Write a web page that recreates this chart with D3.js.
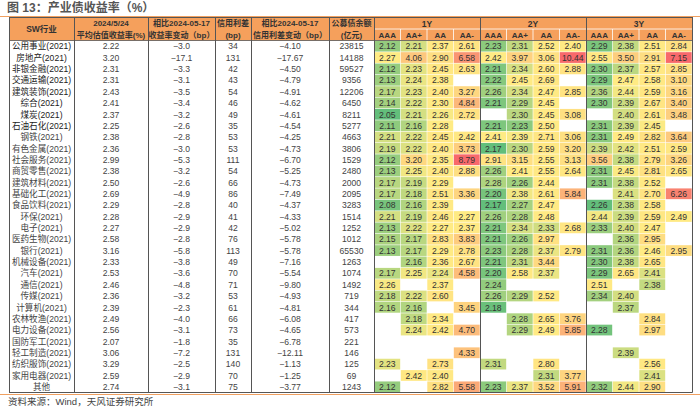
<!DOCTYPE html>
<html>
<head>
<meta charset="utf-8">
<script src="https://cdn.jsdelivr.net/npm/d3@7"></script>
<style>
  body { margin: 0; background: #fff; }
  svg { display: block; font-family: "Liberation Sans", "Noto Sans CJK SC", sans-serif; }
</style>
</head>
<body>
<div id="chart"></div>
<script>
var industries = ["公用事业(2021)","房地产(2021)","非银金融(2021)","交通运输(2021)","建筑装饰(2021)","综合(2021)","煤炭(2021)","石油石化(2021)","钢铁(2021)","有色金属(2021)","社会服务(2021)","商贸零售(2021)","建筑材料(2021)","基础化工(2021)","食品饮料(2021)","环保(2021)","电子(2021)","医药生物(2021)","银行(2021)","机械设备(2021)","汽车(2021)","通信(2021)","传媒(2021)","计算机(2021)","农林牧渔(2021)","电力设备(2021)","国防军工(2021)","轻工制造(2021)","纺织服饰(2021)","家用电器(2021)","其他"];
var yield524 = [2.22,3.20,2.31,2.31,2.43,2.41,2.37,2.25,2.38,2.36,2.99,2.38,2.50,2.69,2.29,2.28,2.27,2.58,3.16,2.33,2.53,2.46,2.36,2.39,2.49,2.56,2.07,3.06,3.29,2.59,2.74];
var yieldChg = [-3.0,-17.1,-3.3,-3.1,-3.5,-3.4,-3.2,-2.6,-2.8,-3.0,-5.3,-3.2,-2.6,-4.9,-2.8,-2.9,-2.9,-2.8,-5.8,-3.8,-3.6,-4.8,-3.2,-2.3,-4.0,-3.1,-1.8,-7.2,-2.5,-2.9,-3.1];
var spread = [34,131,42,43,54,46,49,35,53,53,111,54,66,86,40,41,42,76,113,49,70,71,53,61,66,73,35,131,140,70,75];
var spreadChg = [-4.10,-17.67,-4.50,-4.79,-4.91,-4.62,-4.61,-4.54,-4.25,-4.73,-6.70,-5.25,-4.73,-7.49,-4.37,-4.33,-5.02,-5.78,-5.78,-7.16,-5.54,-9.80,-4.93,-4.81,-6.08,-4.65,-6.78,-12.11,-1.13,-1.25,-3.77];
var balance = [23815,14188,59527,9356,12206,6450,8211,5277,4663,3806,1529,2480,2000,2095,3283,1514,1252,1012,65530,1263,1074,1492,719,344,417,573,221,146,125,69,1243];

var tenors = ["1Y","2Y","3Y"];
var ratings = ["AAA","AA+","AA","AA-"];
var N = null;
// yields by tenor, columns AAA, AA+, AA, AA-
var y1 = [[2.12,2.21,2.37,2.61],[2.27,4.06,2.90,6.58],[2.12,2.23,2.45,2.63],[2.13,2.24,2.38,N],[2.17,2.23,2.40,3.27],[2.14,2.22,2.30,4.84],[2.05,2.21,2.26,2.72],[2.11,2.16,2.28,N],[2.21,2.22,2.45,2.42],[2.19,2.22,2.40,3.73],[2.12,3.20,2.35,8.79],[2.13,2.25,2.40,2.88],[2.17,2.19,2.29,N],[2.17,2.18,2.51,3.36],[2.08,2.16,2.39,N],[2.21,2.19,2.46,2.27],[2.13,2.22,2.27,2.37],[2.15,2.17,2.83,3.83],[2.13,2.17,2.29,2.78],[N,2.16,2.36,2.67],[2.17,2.25,2.24,4.58],[2.26,N,2.37,N],[2.18,2.22,2.60,N],[2.16,2.16,N,3.45],[N,2.18,2.34,N],[N,2.24,2.42,4.70],[N,N,N,N],[N,N,N,4.33],[2.23,N,2.73,N],[N,2.42,2.40,N],[2.12,N,2.82,5.58]];
var y2 = [[2.23,2.31,2.52,2.40],[2.42,3.97,3.06,10.44],[2.21,2.34,2.60,2.88],[2.22,2.45,2.69,N],[2.26,2.34,2.47,2.85],[2.21,2.29,2.45,N],[N,2.30,2.45,3.08],[2.21,2.23,2.50,N],[2.41,2.39,2.71,3.06],[2.17,2.30,2.59,3.20],[2.91,3.15,2.55,3.13],[2.26,2.41,2.55,2.64],[2.28,2.26,2.44,N],[2.20,2.38,2.61,5.84],[2.17,2.27,2.47,N],[2.26,2.28,2.48,N],[2.21,2.34,2.33,2.68],[2.21,2.26,2.97,N],[2.23,2.28,2.37,2.79],[2.21,2.31,3.44,N],[2.20,2.58,2.37,N],[2.24,N,N,N],[2.26,2.29,2.52,N],[2.18,N,N,N],[N,2.28,2.65,3.76],[N,2.29,2.49,5.85],[N,N,N,N],[N,N,N,N],[2.31,N,2.80,N],[N,N,2.31,3.77],[2.23,2.37,3.52,5.91]];
var y3 = [[2.29,2.38,2.51,2.84],[2.55,3.50,2.91,7.15],[2.30,2.37,2.57,2.85],[2.29,2.47,2.58,3.10],[2.36,2.44,2.59,3.16],[2.30,2.39,2.67,3.40],[N,2.40,2.61,3.48],[2.31,2.39,2.45,N],[2.31,2.49,2.82,3.64],[2.39,2.42,2.51,2.59],[3.56,2.38,2.79,3.26],[2.31,2.45,2.81,2.65],[2.31,2.38,2.52,N],[N,2.41,2.70,6.26],[2.26,2.38,2.58,N],[2.44,2.39,2.59,2.49],[2.33,2.40,2.47,N],[N,2.36,2.95,N],[2.31,2.36,2.46,2.95],[2.30,2.38,2.65,N],[2.29,2.65,2.41,N],[2.51,N,2.38,N],[2.34,2.40,N,N],[N,2.37,N,N],[N,N,2.84,N],[2.28,N,2.97,N],[N,N,N,N],[N,2.39,N,N],[N,N,2.56,N],[N,N,2.41,N],[2.32,2.44,2.90,N]];
var blocks = [y1, y2, y3];

var W = 700, H = 409;
var top0 = 17, headMid = 29, bodyTop = 40.5, bodyBot = 392.5;
var headFill = "#F5A05C", lineCol = "#555";

var svg = d3.select("#chart").append("svg").attr("width", W).attr("height", H);

// title and decorative orange rules
svg.append("text").attr("x", 7).attr("y", 12).attr("font-size", 12).attr("font-weight", "bold")
    .attr("fill", "#555").text("图 13：产业债收益率（%）");
svg.append("line").attr("x1", 0).attr("x2", W).attr("y1", 16.5).attr("y2", 16.5)
    .attr("stroke", "#F0A060").attr("stroke-width", 1);
svg.append("line").attr("x1", 0).attr("x2", W).attr("y1", 394.5).attr("y2", 394.5)
    .attr("stroke", "#F0A060").attr("stroke-width", 1);
svg.append("text").attr("x", 8).attr("y", 405).attr("font-size", 9.5).attr("fill", "#444")
    .text("资料来源：Wind，天风证券研究所");

// left columns
var leftCols = [
    {h: ["SW行业"], x0: 9, x1: 74, v: industries, f: function(d) { return d; }},
    {h: ["2024/5/24", "平均估值收益率(%)"], x0: 74, x1: 148, v: yield524, f: d3.format(".2f")},
    {h: ["相比2024-05-17", "收益率变动（bp）"], x0: 148, x1: 215, v: yieldChg, f: d3.format(".1f")},
    {h: ["信用利差", "(bp)"], x0: 215, x1: 251, v: spread, f: d3.format("d")},
    {h: ["相比2024-05-17", "信用利差变动（bp）"], x0: 251, x1: 329, v: spreadChg, f: d3.format(".2f")},
    {h: ["公募债余额", "(亿元)"], x0: 329, x1: 374, v: balance, f: d3.format("d")}
];

var y = d3.scaleBand().domain(d3.range(industries.length)).range([bodyTop, bodyBot]);

var heatKeys = [];
tenors.forEach(function(t) { ratings.forEach(function(r) { heatKeys.push(t + "|" + r); }); });
var x = d3.scaleBand().domain(heatKeys).range([374, 692]);

// header background
svg.append("rect").attr("x", 9).attr("y", top0).attr("width", 692 - 9).attr("height", bodyTop - top0)
    .attr("fill", headFill);

leftCols.forEach(function(c) {
    var cx = (c.x0 + c.x1) / 2;
    var g = svg.append("g");
    if (c.h.length === 1) {
        g.append("text").attr("x", cx).attr("y", (top0 + bodyTop) / 2 + 3).attr("text-anchor", "middle")
            .attr("font-size", 8.5).attr("font-weight", "bold").attr("fill", "#333").text(c.h[0]);
    } else {
        g.selectAll("text").data(c.h).enter().append("text")
            .attr("x", cx).attr("y", function(d, i) { return i === 0 ? 26 : 37.5; })
            .attr("text-anchor", "middle").attr("font-size", 8).attr("font-weight", "bold")
            .attr("fill", "#333").text(function(d) { return d; });
    }
    g.selectAll(".cell").data(c.v).enter().append("text")
        .attr("x", cx).attr("y", function(d, i) { return y(i) + y.bandwidth() / 2 + 3.2; })
        .attr("text-anchor", "middle").attr("font-size", 8.6)
        .attr("fill", function(d, i) { return (c.v === industries && i < 8) ? "#222" : "#444"; })
        .text(c.f);
});

// heat header
tenors.forEach(function(t) {
    var x0 = x(t + "|AAA"), x1 = x(t + "|AA-") + x.bandwidth();
    svg.append("text").attr("x", (x0 + x1) / 2).attr("y", 26.5).attr("text-anchor", "middle")
        .attr("font-size", 8.5).attr("font-weight", "bold").attr("fill", "#333").text(t);
});
svg.selectAll(".rh").data(heatKeys).enter().append("text")
    .attr("x", function(d) { return x(d) + x.bandwidth() / 2; }).attr("y", 38)
    .attr("text-anchor", "middle").attr("font-size", 8).attr("font-weight", "bold").attr("fill", "#333")
    .text(function(d) { return d.split("|")[1]; });
svg.append("line").attr("x1", 374).attr("x2", 692).attr("y1", headMid).attr("y2", headMid)
    .attr("stroke", "#fff").attr("stroke-width", 0.8);
svg.selectAll(".rs").data(heatKeys.filter(function(d) { return d.split("|")[1] !== "AAA"; })).enter()
    .append("line").attr("x1", function(d) { return x(d); }).attr("x2", function(d) { return x(d); })
    .attr("y1", headMid).attr("y2", bodyTop).attr("stroke", "#fff").attr("stroke-width", 0.8);

// heat cells, colour scale per tenor block (Excel 3-colour: min / median / max)
blocks.forEach(function(b, bi) {
    var vals = [];
    b.forEach(function(row) { row.forEach(function(v) { if (v !== null) vals.push(v); }); });
    var color = d3.scaleLinear()
        .domain([d3.min(vals), d3.median(vals), d3.max(vals)])
        .range(["#63BE7B", "#FFEB84", "#F8696B"])
        .interpolate(d3.interpolateRgb);
    var cells = [];
    b.forEach(function(row, ri) {
        row.forEach(function(v, ci) {
            if (v !== null) cells.push({r: ri, k: tenors[bi] + "|" + ratings[ci], v: v});
        });
    });
    var g = svg.append("g");
    g.selectAll("rect").data(cells).enter().append("rect")
        .attr("x", function(d) { return x(d.k) + 0.3; })
        .attr("y", function(d) { return y(d.r) + 0.3; })
        .attr("width", x.bandwidth() - 0.6).attr("height", y.bandwidth() - 0.6)
        .attr("fill", function(d) { return color(d.v); });
    g.selectAll("text").data(cells).enter().append("text")
        .attr("x", function(d) { return x(d.k) + x.bandwidth() / 2; })
        .attr("y", function(d) { return y(d.r) + y.bandwidth() / 2 + 3.2; })
        .attr("text-anchor", "middle").attr("font-size", 8.6).attr("fill", "#333")
        .text(function(d) { return d3.format(".2f")(d.v); });
});

// grid lines
var vLines = [9, 74, 148, 215, 251, 329, 374, x("2Y|AAA"), x("3Y|AAA"), 692];
svg.selectAll(".vl").data(vLines).enter().append("line")
    .attr("x1", function(d) { return Math.round(d) + 0.5; }).attr("x2", function(d) { return Math.round(d) + 0.5; })
    .attr("y1", top0).attr("y2", bodyTop + y.bandwidth() * industries.length)
    .attr("stroke", lineCol).attr("stroke-width", 1);
svg.append("line").attr("x1", 9).attr("x2", 692.5).attr("y1", top0 + 0.5).attr("y2", top0 + 0.5)
    .attr("stroke", lineCol);
svg.append("line").attr("x1", 9).attr("x2", 692.5).attr("y1", bodyTop).attr("y2", bodyTop)
    .attr("stroke", lineCol).attr("stroke-width", 0.8);
svg.append("line").attr("x1", 9).attr("x2", 692.5).attr("y1", bodyBot).attr("y2", bodyBot)
    .attr("stroke", lineCol);
</script>
</body>
</html>
